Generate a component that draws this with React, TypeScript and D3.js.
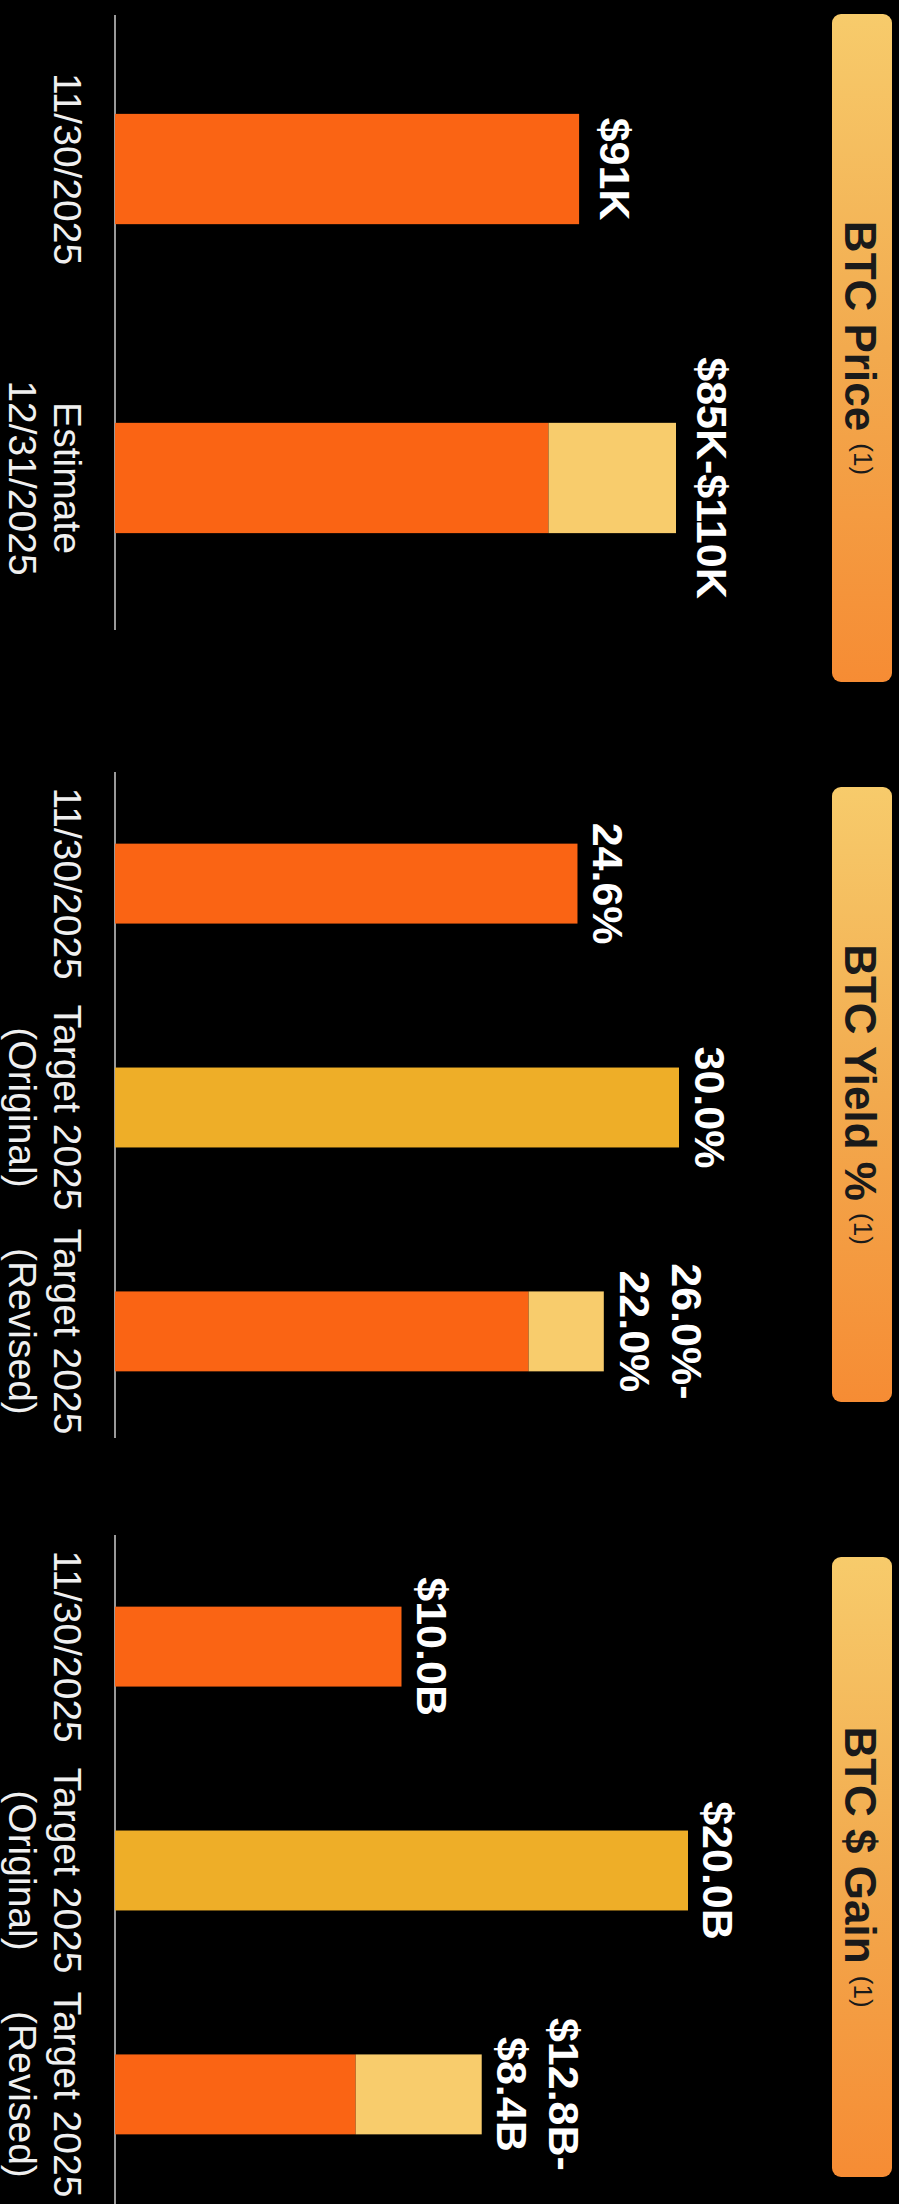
import React from "react";
import * as d3 from "d3";

// ---------- DATA ----------
const priceCategories: string[][] = [["11/30/2025"], ["Estimate", "12/31/2025"]];
const priceLow: number[] = [91, 85];
const priceHigh: (number | null)[] = [null, 110];
const priceKinds: string[] = ["actual", "range"];
const priceLabels: string[][] = [["$91K"], ["$85K-$110K"]];

const yieldCategories: string[][] = [["11/30/2025"], ["Target 2025", "(Original)"], ["Target 2025", "(Revised)"]];
const yieldLow: number[] = [24.6, 30.0, 22.0];
const yieldHigh: (number | null)[] = [null, null, 26.0];
const yieldKinds: string[] = ["actual", "target", "range"];
const yieldLabels: string[][] = [["24.6%"], ["30.0%"], ["26.0%-", "22.0%"]];

const gainCategories: string[][] = [["11/30/2025"], ["Target 2025", "(Original)"], ["Target 2025", "(Revised)"]];
const gainLow: number[] = [10.0, 20.0, 8.4];
const gainHigh: (number | null)[] = [null, null, 12.8];
const gainKinds: string[] = ["actual", "target", "range"];
const gainLabels: string[][] = [["$10.0B"], ["$20.0B"], ["$12.8B-", "$8.4B"]];

const titles: string[] = ["BTC Price", "BTC Yield %", "BTC $ Gain"];
const footnote = "(1)";

// ---------- STYLE / LAYOUT ----------
const W = 899;
const H = 2204;
const FONT = "'Liberation Sans', Arial, Helvetica, sans-serif";
const COLORS: Record<string, string> = {
  actual: "#FA6414",
  target: "#EEAE28",
  rangeTop: "#F8CC6C",
};
const BASE_X = 115;

const layouts = [
  { bandStart: 15, bandEnd: 632, axisEnd: 630, valueMax: 110, valueEnd: 676, boxTop: 14, boxBottom: 682, gap: 21 },
  { bandStart: 772, bandEnd: 1443, axisEnd: 1438, valueMax: 30, valueEnd: 679, boxTop: 787, boxBottom: 1402, gap: 16 },
  { bandStart: 1535, bandEnd: 2206, axisEnd: 2204, valueMax: 20, valueEnd: 688, boxTop: 1557, boxBottom: 2177, gap: 15 },
];

const panels = [
  { cats: priceCategories, low: priceLow, high: priceHigh, kinds: priceKinds, labels: priceLabels, title: titles[0] },
  { cats: yieldCategories, low: yieldLow, high: yieldHigh, kinds: yieldKinds, labels: yieldLabels, title: titles[1] },
  { cats: gainCategories, low: gainLow, high: gainHigh, kinds: gainKinds, labels: gainLabels, title: titles[2] },
];

function Panel({ p, L, idx }: { p: any; L: any; idx: number }) {
  const keys = p.cats.map((_: any, i: number) => String(i));
  const y = d3
    .scaleBand<string>()
    .domain(keys)
    .range([L.bandStart, L.bandEnd])
    .paddingInner(0.643)
    .paddingOuter(0.32);
  const x = d3.scaleLinear().domain([0, L.valueMax]).range([BASE_X, L.valueEnd]);
  const bw = y.bandwidth();
  const boxCy = (L.boxTop + L.boxBottom) / 2;
  return (
    <g>
      {/* title box */}
      <rect
        x={832}
        y={L.boxTop}
        width={60}
        height={L.boxBottom - L.boxTop}
        rx={9}
        ry={9}
        fill={`url(#titleGrad${idx})`}
      />
      <text
        transform={`translate(${845},${boxCy}) rotate(90)`}
        textAnchor="middle"
        fontFamily={FONT}
        fontWeight="bold"
        fontSize={44}
        fill="#1a1a1a"
      >
        {p.title + " "}
        <tspan fontSize={26} fontWeight="normal" dy={-9}>
          {footnote}
        </tspan>
      </text>

      {/* axis baseline */}
      <line x1={BASE_X} x2={BASE_X} y1={L.bandStart} y2={L.axisEnd} stroke="#9a9a9a" strokeWidth={2} />

      {keys.map((k: string, i: number) => {
        const y0 = y(k) as number;
        const cy = y0 + bw / 2;
        const lo = p.low[i];
        const hi = p.high[i];
        const kind = p.kinds[i];
        const end = hi != null ? x(hi) : x(lo);
        const lines: string[] = p.labels[i];
        const cat: string[] = p.cats[i];
        return (
          <g key={k}>
            <rect
              x={x(0)}
              y={y0}
              width={x(lo) - x(0)}
              height={bw}
              fill={kind === "target" ? COLORS.target : COLORS.actual}
            />
            {hi != null && (
              <rect x={x(lo)} y={y0} width={x(hi) - x(lo)} height={bw} fill={COLORS.rangeTop} />
            )}
            {lines.map((t, j) => (
              <text
                key={j}
                transform={`translate(${end + L.gap + (lines.length - 1 - j) * 52},${cy}) rotate(90)`}
                textAnchor="middle"
                fontFamily={FONT}
                fontWeight="bold"
                fontSize={43}
                fill="#ffffff"
              >
                {t}
              </text>
            ))}
            {cat.map((t, j) => (
              <text
                key={"c" + j}
                transform={`translate(${54 - j * 45},${cy}) rotate(90)`}
                textAnchor="middle"
                fontFamily={FONT}
                fontSize={39}
                fill="#f0f0f0"
              >
                {t}
              </text>
            ))}
          </g>
        );
      })}
    </g>
  );
}

export default function App() {
  return (
    <div style={{ position: "absolute", left: 0, top: 0, width: W, height: H, background: "#000" }}>
      <svg width={W} height={H} style={{ display: "block" }}>
        <defs>
          {layouts.map((L, i) => (
            <linearGradient
              key={i}
              id={`titleGrad${i}`}
              gradientUnits="userSpaceOnUse"
              x1={0}
              y1={L.boxTop}
              x2={0}
              y2={L.boxBottom}
            >
              <stop offset="0%" stopColor="#F7CB6B" />
              <stop offset="50%" stopColor="#F2AA4E" />
              <stop offset="100%" stopColor="#F68C34" />
            </linearGradient>
          ))}
        </defs>
        <rect x={0} y={0} width={W} height={H} fill="#000" />
        {panels.map((p, i) => (
          <Panel key={i} p={p} L={layouts[i]} idx={i} />
        ))}
      </svg>
    </div>
  );
}
